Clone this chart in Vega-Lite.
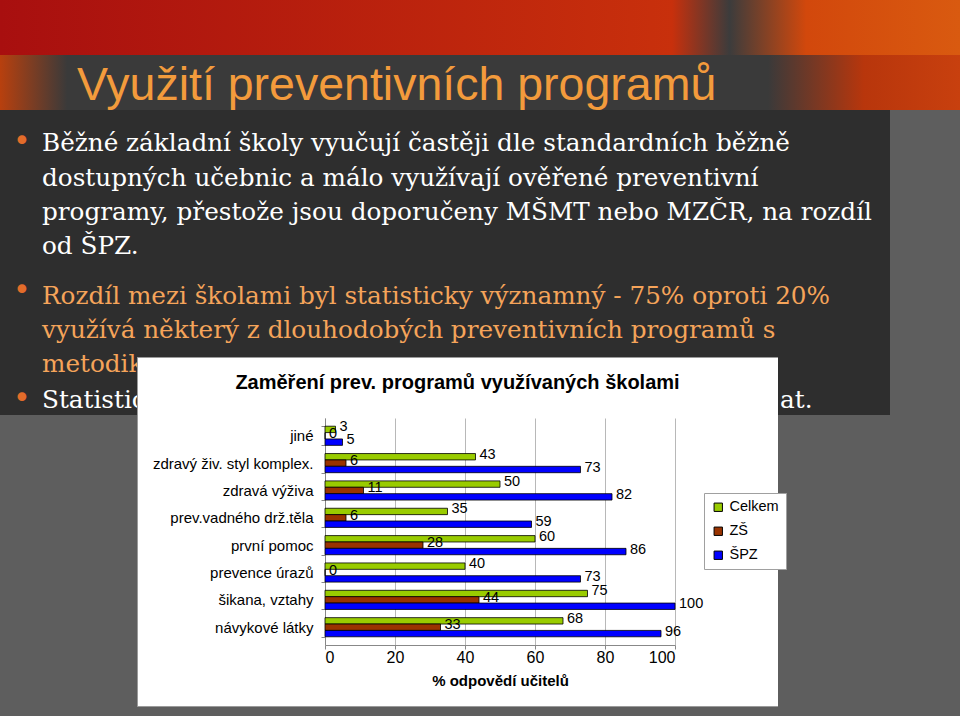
{
  "$schema": "https://vega.github.io/schema/vega-lite/v6.json",
  "background": "#5e5e5e",
  "padding": 0,
  "bounds": "flush",
  "spacing": 0,
  "config": {"view": {"stroke": null}, "concat": {"spacing": 0}},
  "vconcat": [
    {
      "width": 960, "height": 55,
      "data": {"values": []}, "mark": "text",
      "view": {"stroke": null, "fill": {"gradient": "linear", "x1": 0, "y1": 0, "x2": 1, "y2": 0, "stops": [
        {"offset": 0, "color": "#a80f0f"}, {"offset": 0.7, "color": "#c8300c"}, {"offset": 0.76, "color": "#3c3c3c"}, {"offset": 0.84, "color": "#d2480c"}, {"offset": 1, "color": "#d95a10"}]}}
    },
    {
      "width": 960, "height": 55,
      "data": {"values": []}, "mark": "text",
      "view": {"stroke": null, "fill": {"gradient": "linear", "x1": 0, "y1": 0, "x2": 1, "y2": 0, "stops": [
        {"offset": 0, "color": "#b8400e"}, {"offset": 0.07, "color": "#3a3a3a"}, {"offset": 0.8, "color": "#3a3a3a"}, {"offset": 0.9, "color": "#b8360c"}, {"offset": 1, "color": "#c8400e"}]}}
    },
    {
      "width": 890, "height": 245,
      "data": {"values": []}, "mark": "text",
      "view": {"stroke": null, "fill": "#2e2e2e"},
      "title": {"text": "Využití preventivních programů", "anchor": "start", "frame": "group", "orient": "top", "dx": 77, "offset": 1, "font": "Liberation Sans", "fontSize": 46.5, "fontWeight": "normal", "color": "#F39B3C"}
    },
    {
      "width": 890, "height": 1,
      "data": {"values": []}, "mark": "text",
      "view": {"stroke": null, "fill": "#2e2e2e"},
      "title": {"text": ["Běžné základní školy vyučují častěji dle standardních běžně", "dostupných učebnic a málo využívají ověřené preventivní", "programy, přestože jsou doporučeny MŠMT nebo MZČR, na rozdíl", "od ŠPZ."], "anchor": "start", "frame": "group", "orient": "top", "dx": 42, "offset": 96, "font": "DejaVu Serif", "fontSize": 24.7, "fontWeight": "normal", "color": "#FFFFFF", "lineHeight": 34.3}
    },
    {
      "width": 890, "height": 1,
      "data": {"values": []}, "mark": "text",
      "view": {"stroke": null, "fill": "#2e2e2e"},
      "title": {"text": ["•", "•"], "anchor": "start", "frame": "group", "orient": "top", "dx": 13, "offset": 50, "font": "DejaVu Sans", "fontSize": 30, "fontWeight": "normal", "color": "#E36C2A", "lineHeight": 149}
    },
    {
      "bounds": "flush",
      "spacing": 0,
      "hconcat": [
        {
          "width": 42, "height": 359,
          "data": {"values": []}, "mark": "text",
          "view": {"stroke": null, "fill": {"gradient": "linear", "x1": 0, "y1": 0, "x2": 0, "y2": 1, "stops": [
            {"offset": 0, "color": "#2e2e2e"}, {"offset": 0.1616, "color": "#2e2e2e"}, {"offset": 0.1616, "color": "#5e5e5e"}, {"offset": 1, "color": "#5e5e5e"}]}},
          "title": {"text": "•", "anchor": "start", "frame": "group", "orient": "top", "dx": 13, "offset": -57, "font": "DejaVu Sans", "fontSize": 30, "fontWeight": "normal", "color": "#E36C2A"}
        },
        {
          "width": 95, "height": 359,
          "data": {"values": []}, "mark": "text",
          "view": {"stroke": null, "fill": {"gradient": "linear", "x1": 0, "y1": 0, "x2": 0, "y2": 1, "stops": [
            {"offset": 0, "color": "#2e2e2e"}, {"offset": 0.1616, "color": "#2e2e2e"}, {"offset": 0.1616, "color": "#5e5e5e"}, {"offset": 1, "color": "#5e5e5e"}]}},
          "title": {"text": ["Rozdíl mezi školami byl statisticky významný - 75% oproti 20%", "využívá některý z dlouhodobých preventivních programů s", "metodikou"], "subtitle": "Statisticky", "anchor": "start", "frame": "group", "orient": "top", "dx": 0, "offset": -56, "font": "DejaVu Serif", "fontSize": 24.7, "fontWeight": "normal", "color": "#F5A45A", "lineHeight": 34, "subtitleFont": "DejaVu Serif", "subtitleFontSize": 24.7, "subtitleColor": "#FFFFFF", "subtitlePadding": 12}
        },
        {
          "width": 641, "height": 349,
          "view": {"fill": "#FFFFFF", "stroke": "#9a9a9a"},
          "title": {"text": "Zaměření prev. programů využívaných školami", "anchor": "middle", "orient": "top", "offset": -43, "font": "Liberation Sans", "fontSize": 20, "fontWeight": "bold", "color": "#000000"},
          "data": {"values": [
            {"cat": "jiné", "series": "Celkem", "value": 3},
            {"cat": "jiné", "series": "ZŠ", "value": 0},
            {"cat": "jiné", "series": "ŠPZ", "value": 5},
            {"cat": "zdravý živ. styl komplex.", "series": "Celkem", "value": 43},
            {"cat": "zdravý živ. styl komplex.", "series": "ZŠ", "value": 6},
            {"cat": "zdravý živ. styl komplex.", "series": "ŠPZ", "value": 73},
            {"cat": "zdravá výživa", "series": "Celkem", "value": 50},
            {"cat": "zdravá výživa", "series": "ZŠ", "value": 11},
            {"cat": "zdravá výživa", "series": "ŠPZ", "value": 82},
            {"cat": "prev.vadného drž.těla", "series": "Celkem", "value": 35},
            {"cat": "prev.vadného drž.těla", "series": "ZŠ", "value": 6},
            {"cat": "prev.vadného drž.těla", "series": "ŠPZ", "value": 59},
            {"cat": "první pomoc", "series": "Celkem", "value": 60},
            {"cat": "první pomoc", "series": "ZŠ", "value": 28},
            {"cat": "první pomoc", "series": "ŠPZ", "value": 86},
            {"cat": "prevence úrazů", "series": "Celkem", "value": 40},
            {"cat": "prevence úrazů", "series": "ZŠ", "value": 0},
            {"cat": "prevence úrazů", "series": "ŠPZ", "value": 73},
            {"cat": "šikana, vztahy", "series": "Celkem", "value": 75},
            {"cat": "šikana, vztahy", "series": "ZŠ", "value": 44},
            {"cat": "šikana, vztahy", "series": "ŠPZ", "value": 100},
            {"cat": "návykové látky", "series": "Celkem", "value": 68},
            {"cat": "návykové látky", "series": "ZŠ", "value": 33},
            {"cat": "návykové látky", "series": "ŠPZ", "value": 96}
          ]},
          "encoding": {
            "y": {"field": "cat", "type": "nominal",
              "sort": ["jiné", "zdravý živ. styl komplex.", "zdravá výživa", "prev.vadného drž.těla", "první pomoc", "prevence úrazů", "šikana, vztahy", "návykové látky"],
              "scale": {"range": [61, 288], "paddingInner": 0.3, "paddingOuter": 0.3},
              "axis": {"title": null, "offset": -188, "labelFont": "Liberation Sans", "labelFontSize": 15, "labelColor": "#000000", "tickBand": "extent", "tickSize": 4, "tickColor": "#888888", "domainColor": "#888888", "labelPadding": 8, "grid": false}},
            "yOffset": {"field": "series", "type": "nominal", "sort": ["Celkem", "ZŠ", "ŠPZ"], "scale": {"paddingInner": 0}},
            "x": {"field": "value", "type": "quantitative",
              "scale": {"domain": [0, 100], "range": [188, 538], "nice": false},
              "axis": {"values": [0, 20, 40, 60, 80, 100], "offset": -61, "title": "% odpovědí učitelů", "titleFont": "Liberation Sans", "titleFontSize": 15, "titleFontWeight": "bold", "titleColor": "#000000", "titlePadding": 8, "labelFont": "Liberation Sans", "labelFontSize": 16, "labelColor": "#000000", "labelPadding": 0, "tickSize": 4, "tickColor": "#888888", "domainColor": "#888888", "grid": true, "gridColor": "#b8b8b8"}}
          },
          "layer": [
            {
              "mark": {"type": "bar", "stroke": "#000000", "strokeWidth": 0.8},
              "encoding": {
                "color": {"field": "series", "type": "nominal", "sort": ["Celkem", "ZŠ", "ŠPZ"],
                  "scale": {"domain": ["Celkem", "ZŠ", "ŠPZ"], "range": ["#99CC00", "#993300", "#0000FF"]},
                  "legend": {"title": null, "orient": "none", "legendX": 704, "legendY": 493, "fillColor": "#FFFFFF", "strokeColor": "#a0a0a0", "padding": 7, "symbolType": "square", "symbolSize": 70, "symbolStrokeColor": "#000000", "symbolStrokeWidth": 1, "symbolOpacity": 1, "labelFont": "Liberation Sans", "labelFontSize": 14.5, "labelColor": "#000000", "rowPadding": 9}}
              }
            },
            {
              "mark": {"type": "text", "align": "left", "dx": 4, "dy": -2, "font": "Liberation Sans", "fontSize": 14.5, "color": "#000000"},
              "encoding": {"text": {"field": "value", "type": "quantitative"}}
            }
          ]
        },
        {
          "width": 112, "height": 359,
          "data": {"values": []}, "mark": "text",
          "view": {"stroke": null, "fill": {"gradient": "linear", "x1": 0, "y1": 0, "x2": 0, "y2": 1, "stops": [
            {"offset": 0, "color": "#2e2e2e"}, {"offset": 0.1616, "color": "#2e2e2e"}, {"offset": 0.1616, "color": "#5e5e5e"}, {"offset": 1, "color": "#5e5e5e"}]}},
          "title": {"text": "at.", "anchor": "start", "frame": "group", "orient": "top", "dx": 2, "offset": -56, "font": "DejaVu Serif", "fontSize": 24.7, "fontWeight": "normal", "color": "#FFFFFF"}
        }
      ]
    }
  ]
}
